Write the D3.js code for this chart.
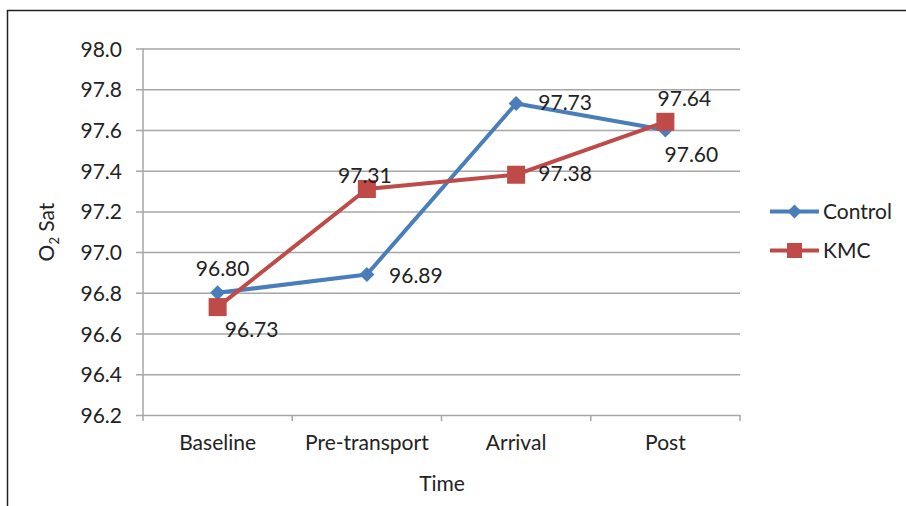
<!DOCTYPE html>
<html>
<head>
<meta charset="utf-8">
<script src="https://cdn.jsdelivr.net/npm/d3@7"></script>
<style>
  html, body { margin: 0; padding: 0; background: #fff; }
  svg text { font-family: Lato, "Open Sans", sans-serif; fill: #222; }
</style>
</head>
<body>
<svg id="chart" width="906" height="506"></svg>
<script>
// Time points and O2 saturation means per group
const categories = ["Baseline", "Pre-transport", "Arrival", "Post"];
const controlValues = [96.80, 96.89, 97.73, 97.60];
const kmcValues = [96.73, 97.31, 97.38, 97.64];
const yTicks = [96.2, 96.4, 96.6, 96.8, 97.0, 97.2, 97.4, 97.6, 97.8, 98.0];
const seriesNames = ["Control", "KMC"];

// Where each value label sits relative to its point: [dx, dy] of the text's centre/middle
const controlLabelPos = [[5, -24], [49, 1], [49, -1], [26, 24]];
const kmcLabelPos = [[34, 22], [-2, -14], [49, -1], [19, -23]];

const fontSize = 21;
const svg = d3.select("#chart");
const margin = { left: 143, right: 740, top: 48.5, bottom: 415 };

const x = d3.scaleBand().domain(categories).range([margin.left, margin.right]);
const y = d3.scaleLinear().domain([96.2, 98.0]).range([margin.bottom, margin.top]);

const gridColor = "#a6a6a6";

// Outer frame
svg.append("path")
  .attr("d", "M7.5,506 L7.5,10.5 L906,10.5")
  .attr("fill", "none").attr("stroke", "#222").attr("stroke-width", 1.5);

// Horizontal gridlines with y labels
const yAxis = d3.axisLeft(y).tickValues(yTicks).tickFormat(d3.format(".1f"))
  .tickSize(0).tickPadding(14);
const gy = svg.append("g").attr("transform", `translate(${margin.left - 7},0)`).call(yAxis);
gy.select(".domain").remove();
gy.selectAll(".tick line").attr("stroke", gridColor).attr("stroke-width", 1.5)
  .attr("x1", 0).attr("x2", margin.right - margin.left + 7);
gy.selectAll(".tick text").attr("font-size", fontSize).attr("fill", "#222")
  .attr("x", -14).attr("dy", "0.36em");

// Vertical axis line
svg.append("line")
  .attr("x1", margin.left).attr("x2", margin.left)
  .attr("y1", margin.top).attr("y2", margin.bottom)
  .attr("stroke", gridColor).attr("stroke-width", 1.5);

// Category axis: ticks between bands
const boundaries = categories.map(c => x(c)).concat([margin.right]);
svg.append("g").selectAll("line").data(boundaries).join("line")
  .attr("x1", d => d).attr("x2", d => d)
  .attr("y1", margin.bottom).attr("y2", margin.bottom + 6)
  .attr("stroke", gridColor).attr("stroke-width", 1.5);
svg.append("g").selectAll("text").data(categories).join("text")
  .attr("x", d => x(d) + x.bandwidth() / 2)
  .attr("y", 450)
  .attr("text-anchor", "middle")
  .attr("font-size", fontSize)
  .text(d => d);

// Axis titles
svg.append("text")
  .attr("x", 442).attr("y", 491)
  .attr("text-anchor", "middle").attr("font-size", fontSize)
  .text("Time");
const yTitle = svg.append("text")
  .attr("transform", "translate(54,232) rotate(-90)")
  .attr("text-anchor", "middle").attr("font-size", fontSize);
yTitle.append("tspan").text("O");
yTitle.append("tspan").attr("font-size", 13).attr("dy", 5).text("2");
yTitle.append("tspan").attr("dy", -5).text(" Sat");

const cx = c => x(c) + x.bandwidth() / 2;
const line = d3.line().x(d => cx(d.cat)).y(d => y(d.v));

const series = [
  { name: seriesNames[0], values: controlValues, color: "#4a7ebb", shape: "diamond", labels: controlLabelPos },
  { name: seriesNames[1], values: kmcValues, color: "#be4b48", shape: "square", labels: kmcLabelPos }
];

function marker(g, shape, color, px, py, size) {
  if (shape === "diamond") {
    g.append("path")
      .attr("d", `M${px},${py - size} L${px + size},${py} L${px},${py + size} L${px - size},${py} Z`)
      .attr("fill", color);
  } else {
    g.append("rect")
      .attr("x", px - size).attr("y", py - size)
      .attr("width", size * 2).attr("height", size * 2)
      .attr("fill", color);
  }
}

series.forEach(s => {
  const pts = s.values.map((v, i) => ({ cat: categories[i], v }));
  svg.append("path").datum(pts)
    .attr("d", line)
    .attr("fill", "none").attr("stroke", s.color).attr("stroke-width", 4)
    .attr("stroke-linejoin", "round");
});

series.forEach(s => {
  const g = svg.append("g");
  s.values.forEach((v, i) => {
    marker(g, s.shape, s.color, cx(categories[i]), y(v), s.shape === "diamond" ? 7.5 : 9);
  });
});

series.forEach(s => {
  svg.append("g").selectAll("text").data(s.values).join("text")
    .attr("x", (v, i) => cx(categories[i]) + s.labels[i][0])
    .attr("y", (v, i) => y(v) + s.labels[i][1])
    .attr("dy", "0.36em")
    .attr("text-anchor", "middle")
    .attr("font-size", fontSize)
    .text(v => v.toFixed(2));
});

// Legend
const legend = svg.append("g");
series.forEach((s, i) => {
  const ly = 211.5 + i * 39;
  legend.append("line")
    .attr("x1", 770).attr("x2", 819).attr("y1", ly).attr("y2", ly)
    .attr("stroke", s.color).attr("stroke-width", 4);
  marker(legend, s.shape, s.color, 794.5, ly, s.shape === "diamond" ? 7 : 7.5);
  legend.append("text")
    .attr("x", 823).attr("y", ly).attr("dy", "0.36em")
    .attr("font-size", fontSize)
    .text(s.name);
});
</script>
</body>
</html>
